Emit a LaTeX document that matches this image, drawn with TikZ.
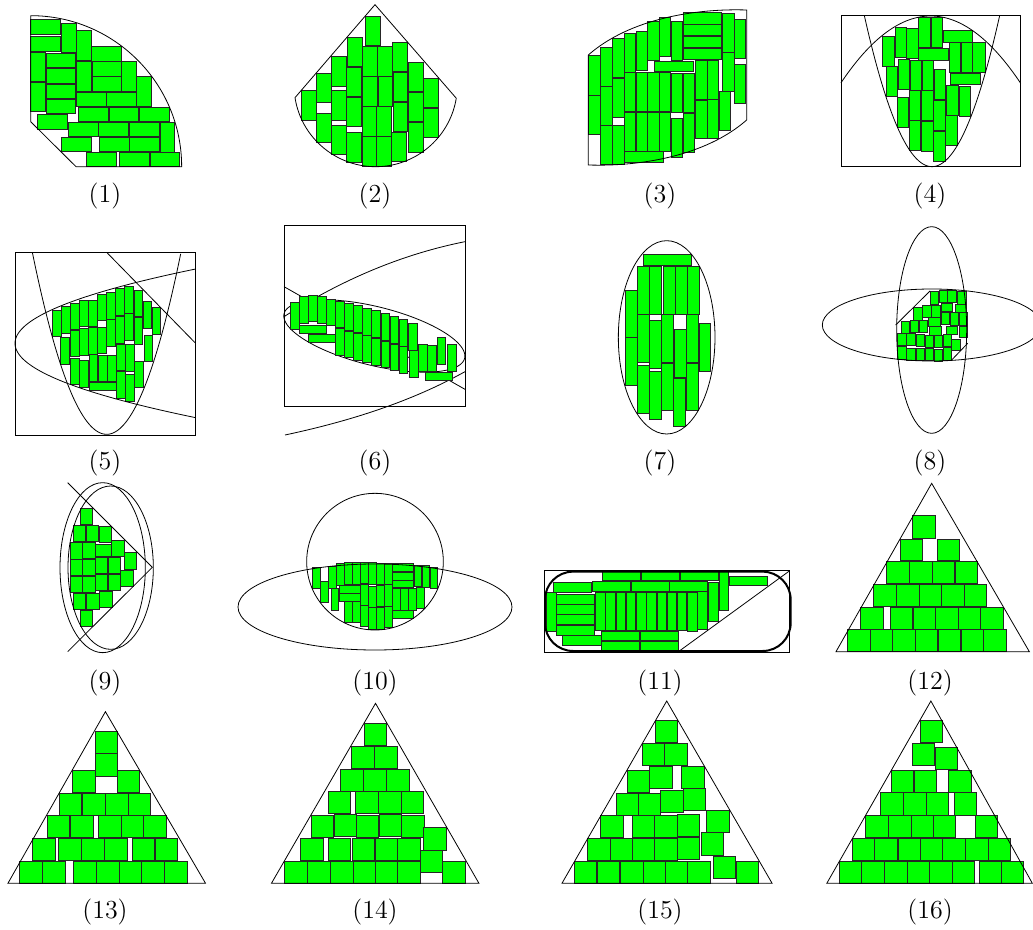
\documentclass[tikz,border=0pt]{standalone}
\definecolor{grn}{RGB}{0,255,0}
\tikzset{
 rc/.style={fill=grn, draw=black!85, line width=0.45pt},
 bd/.style={draw=black, line width=0.4pt},
 lab/.style={font=\fontsize{13}{15}\selectfont, inner sep=0pt}
}
\begin{document}
\begin{tikzpicture}[x=0.5pt,y=-0.5pt]
\useasboundingbox (0,0) rectangle (1033,930);
% ---------- panel 1
\begin{scope}[shift={(20,10)},scale=1/3]
\foreach \a/\b/\c/\d in {32/28/122/73,32/80/122/125,124/40/168/128,170/60/214/152,32/127/77/215,32/217/77/305,79/130/167/173,79/176/167/220,79/222/167/266,79/267/167/310,215/110/304/155,170/155/214/245,216/155/304/200,216/200/304/245,305/155/349/245,350/200/394/290,170/247/258/290,260/247/349/290,53/313/142/357,176/293/265/335,268/293/356/335,359/292/447/335,145/338/234/380,236/338/325/380,328/338/418/380,420/338/463/426,123/382/213/425,238/382/327/425,329/382/418/425,199/428/288/470,297/428/387/470,390/428/479/470}
 \draw[rc] (\a,\b) rectangle (\c,\d);
\draw[bd] (32,335) -- (32,17) arc[start angle=-90,end angle=0,radius=453] -- (168,470) -- cycle;
\end{scope}
% ---------- panel 2
\begin{scope}[shift={(285,0)},scale=1/3]
\foreach \a/\b/\c/\d in {48/272/93/360,94/220/138/308,94/340/138/428,139/170/183/258,139/272/183/360,139/375/183/463,187/111/231/199,185/202/229/290,185/292/229/380,185/397/229/486,241/48/285/137,231/139/276/228,231/230/276/318,231/320/276/408,231/410/276/498,277/139/321/228,279/230/323/318,275/320/319/408,275/410/319/498,322/127/366/215,324/217/368/305,324/307/368/395,320/397/364/485,370/187/414/275,370/277/414/365,370/368/414/456,416/235/460/323,416/325/460/413}
 \draw[rc] (\a,\b) rectangle (\c,\d);
\draw[bd] (270,14) -- (30,293) arc[start angle=171.1,end angle=9.3,radius=245] -- cycle;
\end{scope}
% ---------- panel 3
\begin{scope}[shift={(580,5)},scale=1/3]
\foreach \a/\b/\c/\d in {25/152/60/270,25/270/60/388,62/127/96/243,62/243/96/360,62/362/96/478,98/100/132/217,98/220/132/337,98/362/132/478,133/85/167/202,133/202/167/320,133/322/167/438,168/80/202/197,168/202/202/320,168/322/202/438,203/48/237/165,203/202/237/320,203/322/237/438,238/38/272/155,238/202/272/320,238/322/272/438,274/50/308/167,274/205/308/323,274/340/308/457,310/205/344/323,310/325/344/442,310/22/425/57,310/58/425/92,310/93/425/128,310/130/425/163,222/168/340/200,133/440/250/473,347/165/381/282,347/285/381/400,382/165/416/282,382/283/416/400,418/260/452/377,428/25/462/142,428/142/462/258,462/42/497/160,462/178/497/296}
 \draw[rc] (\a,\b) rectangle (\c,\d);
\draw[bd] (25,150) .. controls (150,40) and (350,10) .. (500,15) -- (500,345) .. controls (375,455) and (175,485) .. (25,480) -- cycle;
\end{scope}
% ---------- panel 4
\begin{scope}[shift={(835,10)},scale=1/3]
\foreach \a/\b/\c/\d in {143/80/178/168,180/52/214/142,215/56/249/145,251/22/286/112,288/22/322/112,324/62/412/97,251/115/340/150,342/97/377/187,378/97/413/187,413/97/450/187,153/170/187/260,189/148/224/238,225/150/259/240,262/150/296/240,298/178/332/268,347/190/436/224,186/262/220/352,222/242/256/332,260/242/294/332,296/272/331/362,334/225/369/315,372/230/406/320,222/332/256/422,260/335/294/425,296/363/331/453,332/317/367/407}
 \draw[rc] (\a,\b) rectangle (\c,\d);
\draw[bd] (18,17) rectangle (557,470);
\draw[bd,domain=18:557,samples=80,variable=\t] plot ({\t},{18+(0.05263*(\t-287))^2});
\draw[bd,domain=88:494,samples=80,variable=\t] plot ({\t},{470-(0.10488*(\t-291))^2});
\end{scope}
% ---------- panel 5
\begin{scope}[shift={(10,245)},scale=1/3]
\foreach \a/\b/\c/\d in {127/197/154/275,155/185/181/265,182/175/208/253,209/165/235/245,236/165/262/245,263/147/289/227,290/143/316/222,317/130/343/210,344/125/370/205,372/135/398/215,399/170/425/250,426/188/452/268,152/278/178/358,182/255/208/335,209/250/235/330,236/248/262/328,263/246/289/326,290/224/316/304,317/214/343/294,344/205/370/285,372/217/398/297,402/270/428/350,182/340/208/418,209/346/235/426,237/329/263/409,265/330/291/410,292/330/318/410,319/297/345/377,346/298/372/378,374/348/400/428,319/380/345/460,347/388/373/468,238/412/318/437}
 \draw[rc] (\a,\b) rectangle (\c,\d);
\draw[bd] (15,22) rectangle (557,570);
\draw[bd,domain=67:512,samples=80,variable=\t] plot ({\t},{568-(0.10479*(\t-290))^2});
\draw[bd,domain=72:518,samples=80,variable=\t] plot ({15+(0.1044*(\t-295))^2},{\t});
\draw[bd] (290,22) -- (557,295);
\end{scope}
% ---------- panel 6 (curves first, boxes drawn over them)
\begin{scope}[shift={(280,220)},scale=1/3]
\draw[bd] (12,15) rectangle (555,558);
\draw[bd] (12,200) -- (555,508);
\draw[bd,domain=0:360,samples=120,variable=\t] plot ({283+279*cos(\t)*0.9707-88*sin(\t)*0.2402},{348+279*cos(\t)*0.2402+88*sin(\t)*0.9707});
\draw[bd] (12,290) .. controls (200,170) and (380,100) .. (555,65);
\draw[bd] (15,645) .. controls (250,595) and (420,530) .. (555,455);
\foreach \a/\b/\c/\d in {32/248/58/328,58/230/84/310,86/225/112/303,113/230/139/310,140/237/166/317,167/243/193/323,194/250/220/330,221/257/247/337,248/265/274/345,275/272/301/352,303/280/329/360,330/290/356/370,357/298/383/378,385/311/411/391,58/315/138/340,86/343/166/368,167/325/193/405,194/333/220/413,221/340/247/420,248/347/274/427,275/355/301/435,303/363/329/443,330/372/356/452,357/380/383/460,388/391/414/471,416/374/442/454,443/375/469/455,471/352/497/432,502/374/528/454,436/456/516/482}
 \draw[rc] (\a,\b) rectangle (\c,\d);
\end{scope}
% ---------- panel 7
\begin{scope}[shift={(610,240)},scale=1/3]
\foreach \a/\b/\c/\d in {100/42/244/76,83/78/118/222,119/78/155/222,160/78/195/222,196/78/231/222,233/78/268/222,47/150/82/293,47/293/82/437,83/224/118/368,83/376/118/520,119/242/155/386,119/394/155/538,155/224/190/368,155/370/190/512,193/268/228/412,191/415/226/558,230/224/265/368,230/370/265/512,267/250/302/393}
 \draw[rc] (\a,\b) rectangle (\c,\d);
\draw[bd] (170,292) ellipse [x radius=145, y radius=290];
\end{scope}
% ---------- panel 8
\begin{scope}[shift={(815,280)},scale=1/3]
\foreach \a/\b/\c/\d in {345/33/370/72,372/30/397/68,398/30/423/68,428/33/453/72,323/75/348/113,350/75/375/113,378/70/413/95,420/72/455/97,296/83/321/120,378/97/403/133,405/97/430/135,433/97/458/135,340/112/375/138,258/123/283/160,285/120/310/158,312/120/337/158,343/140/378/165,393/138/428/163,433/138/458/172,248/160/273/197,275/160/300/197,303/163/328/200,330/167/355/203,358/167/383/203,385/163/410/200,410/177/435/212,248/200/273/237,275/205/300/242,303/205/328/242,330/205/355/242,358/207/383/244,385/203/410/240}
 \draw[rc] (\a,\b) rectangle (\c,\d);
\draw[bd] (350,135) ellipse [x radius=328, y radius=108];
\draw[bd] (350,150) ellipse [x radius=105, y radius=310];
\draw[bd] (242,135) -- (345,33);
\draw[bd] (410,240) -- (458,190);
\end{scope}
% ---------- panel 9
\begin{scope}[shift={(55,480)},scale=1/3]
\foreach \a/\b/\c/\d in {75/85/112/133,55/135/92/183,93/135/130/183,132/140/168/188,45/188/82/237,82/187/120/235,120/192/170/228,170/180/207/228,45/238/82/287,82/237/120/287,120/232/158/280,160/232/197/280,208/218/245/267,45/290/82/338,82/290/120/338,120/282/158/330,160/282/197/330,197/270/235/318,55/340/92/388,93/340/132/388,133/333/172/382,75/390/112/440}
 \draw[rc] (\a,\b) rectangle (\c,\d);
\draw[bd] (143,263) ellipse [x radius=128, y radius=255];
\draw[bd] (167,263) ellipse [x radius=128, y radius=245];
\draw[bd] (38,8) -- (292,262) -- (38,515);
\end{scope}
% ---------- panel 10
\begin{scope}[shift={(235,520)},scale=1/3]
\foreach \a/\b/\c/\d in {232/142/255/205,256/183/279/247,280/140/303/205,289/205/311/270,305/130/328/195,329/128/352/193,353/128/376/193,377/126/400/190,401/126/424/192,425/130/448/193,448/130/471/193,472/130/535/155,472/157/535/180,472/180/535/203,537/135/560/200,561/137/584/202,585/142/608/205,313/195/376/220,313/220/376/243,377/193/400/257,401/198/424/262,425/195/448/260,448/193/471/258,472/205/495/270,496/205/519/270,520/205/543/270,544/202/567/266,329/245/352/308,353/245/376/308,377/257/400/320,401/262/424/328,425/262/448/328,448/258/471/323,472/272/535/295}
 \draw[rc] (\a,\b) rectangle (\c,\d);
\draw[bd] (420,125) circle [radius=205];
\draw[bd] (420,261) ellipse [x radius=411, y radius=129];
\end{scope}
% ---------- panel 11
\begin{scope}[shift={(540,565)},scale=1/3]
\foreach \a/\b/\c/\d in {187/20/300/47,303/20/418/47,420/20/535/47,537/20/565/135,567/35/682/62,40/53/155/82,157/50/272/78,273/50/388/78,389/50/503/78,505/53/535/168,20/83/48/198,50/88/163/117,50/118/163/147,50/148/163/178,50/180/163/210,68/210/183/240,166/82/195/195,197/82/226/195,228/82/257/195,258/82/287/195,289/82/318/195,320/82/349/195,351/82/380/195,381/82/410/195,411/82/440/195,441/82/471/198,473/80/502/193,185/198/298/227,300/198/415/227,185/228/298/257,300/228/415/257}
 \draw[rc] (\a,\b) rectangle (\c,\d);
\draw[bd] (12,15) rectangle (748,262);
\draw[line width=1pt, rounded corners=14pt] (15,20) rectangle (752,258);
\draw[bd] (418,258) -- (748,18);
\end{scope}
% ---------- panel 12
\begin{scope}[shift={(830,480)},scale=1/3]
\foreach \a/\b/\c/\d in {248/107/316/174,210/177/277/242,322/177/389/242,170/245/237/311,239/245/306/311,306/245/373/311,375/245/442/311,131/313/198/380,200/313/267/380,268/313/335/380,335/313/403/380,403/313/470/380,92/381/159/447,180/381/247/447,249/381/316/447,316/381/384/447,384/381/451/447,452/381/519/447,52/449/120/515,121/449/188/515,188/449/256/515,256/449/323/515,325/449/392/515,393/449/460/515,461/449/528/515}
 \draw[rc] (\a,\b) rectangle (\c,\d);
\draw[bd] (305,10) -- (18,515) -- (598,515) -- cycle;
\end{scope}
% ---------- panels 13-16 (anisotropic zoom coordinates)
\begin{scope}[shift={(0,700)},xscale=0.6588,yscale=1/3]
% panel 13
\foreach \a/\b/\c/\d in {145/93/178/160,145/160/178/228,110/212/145/278,178/212/212/278,90/280/124/345,125/280/160/345,160/280/195/345,195/280/229/345,72/347/106/413,107/347/142/413,150/347/184/413,184/347/218/413,218/347/252/413,50/415/84/481,89/415/123/481,124/415/158/481,158/415/193/481,201/415/235/481,236/415/270/481,30/483/64/550,65/483/100/550,112/483/146/550,147/483/181/550,181/483/215/550,215/483/249/550,249/483/284/550}
 \draw[rc] (\a,\b) rectangle (\c,\d);
\draw[bd] (160,35) -- (12,550) -- (312,550) -- cycle;
% panel 14
\foreach \a/\b/\c/\d in {553/70/587/137,533/139/568/205,569/139/604/205,517/207/551/273,552/207/586/273,587/207/621/273,498/275/532/341,540/275/574/341,575/275/609/341,609/275/643/341,472/345/506/413,507/343/541/410,541/345/575/412,576/343/610/410,610/345/644/413,643/382/678/450,456/415/491/481,498/415/532/481,535/415/569/481,570/415/604/481,604/415/638/481,638/452/672/518,432/483/466/550,467/483/501/550,502/483/536/550,536/483/570/550,570/483/604/550,604/483/638/550,672/483/707/550}
 \draw[rc] (\a,\b) rectangle (\c,\d);
\draw[bd] (570,10) -- (412,550) -- (727,550) -- cycle;
% panel 15
\foreach \a/\b/\c/\d in {995/62/1029/128,975/130/1009/197,1009/130/1043/197,952/210/986/276,986/198/1020/265,1035/198/1069/265,935/280/969/346,969/280/1003/346,1003/270/1037/336,1037/265/1071/332,1072/330/1107/397,912/347/946/413,960/347/994/413,994/347/1028/413,1028/343/1062/410,1064/398/1098/465,892/415/926/481,926/415/960/481,960/415/994/481,994/415/1028/481,1028/412/1062/478,1083/469/1117/536,872/483/906/550,907/483/941/550,942/483/976/550,976/483/1010/550,1010/483/1044/550,1044/483/1079/550,1118/483/1152/550}
 \draw[rc] (\a,\b) rectangle (\c,\d);
\draw[bd] (1012,3) -- (853,550) -- (1172,550) -- cycle;
% panel 16
\foreach \a/\b/\c/\d in {1397/62/1431/128,1385/130/1419/197,1420/142/1454/208,1353/210/1387/276,1388/210/1422/276,1440/210/1474/276,1337/278/1371/345,1372/278/1406/345,1406/278/1440/345,1448/278/1482/345,1314/347/1348/413,1349/347/1383/413,1383/347/1417/413,1417/347/1451/413,1480/347/1514/413,1294/415/1328/481,1328/415/1362/481,1363/415/1397/481,1397/415/1431/481,1431/415/1465/481,1466/415/1500/481,1500/415/1534/481,1274/483/1308/550,1308/483/1342/550,1343/483/1377/550,1377/483/1411/550,1411/483/1445/550,1445/483/1479/550,1486/483/1520/550,1520/483/1554/550}
 \draw[rc] (\a,\b) rectangle (\c,\d);
\draw[bd] (1413,3) -- (1255,550) -- (1567,550) -- cycle;
\end{scope}
% ---------- labels
\node[lab] (l1) at (105,196) {(1)};
\node[lab] (l2) at (375,196) {(2)};
\node[lab] (l3) at (660,196) {(3)};
\node[lab] (l4) at (930,196) {(4)};
\node[lab] (l5) at (105,463) {(5)};
\node[lab] (l6) at (375,463) {(6)};
\node[lab] (l7) at (660,463) {(7)};
\node[lab] (l8) at (930,463) {(8)};
\node[lab] (l9) at (105,683) {(9)};
\node[lab] (l10) at (375,683) {(10)};
\node[lab] (l11) at (660,683) {(11)};
\node[lab] (l12) at (930,683) {(12)};
\node[lab] (l13) at (105,912) {(13)};
\node[lab] (l14) at (375,912) {(14)};
\node[lab] (l15) at (660,912) {(15)};
\node[lab] (l16) at (930,912) {(16)};
\end{tikzpicture}
\end{document}
